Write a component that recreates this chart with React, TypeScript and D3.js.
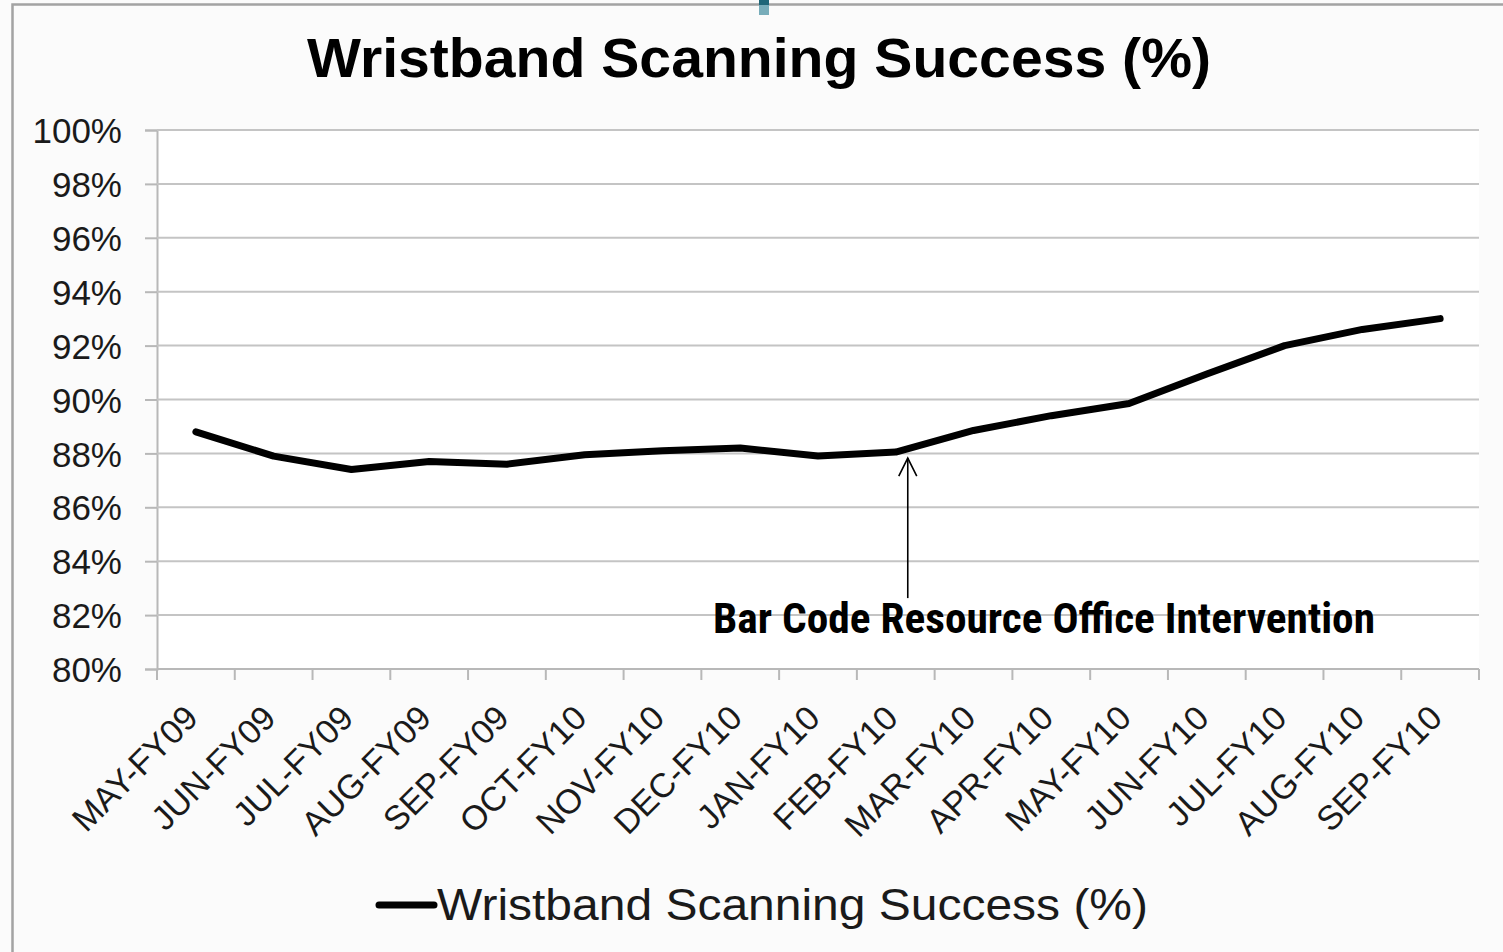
import React, { useRef, useEffect } from "react";
import * as d3 from "d3";

const categories = [
  "MAY-FY09", "JUN-FY09", "JUL-FY09", "AUG-FY09", "SEP-FY09", "OCT-FY10",
  "NOV-FY10", "DEC-FY10", "JAN-FY10", "FEB-FY10", "MAR-FY10", "APR-FY10",
  "MAY-FY10", "JUN-FY10", "JUL-FY10", "AUG-FY10", "SEP-FY10",
];
const successPct = [
  88.8, 87.9, 87.4, 87.7, 87.6, 87.95, 88.1, 88.2, 87.9, 88.05,
  88.85, 89.4, 89.85, 90.95, 92.0, 92.6, 93.0,
];
const yTicks = [80, 82, 84, 86, 88, 90, 92, 94, 96, 98, 100];
const seriesName = "Wristband Scanning Success (%)";
const chartTitle = "Wristband Scanning Success (%)";
const annotationText = "Bar Code Resource Office Intervention";
const annotationCategory = "FEB-FY10";

function App() {
  const svgRef = useRef<SVGSVGElement>(null);

  useEffect(() => {
    const W = 1503;
    const H = 952;
    const plot = { left: 157, right: 1479, top: 130, bottom: 669 };
    const svg = d3.select(svgRef.current).attr("width", W).attr("height", H);
    svg.selectAll("*").remove();

    // page background + frame
    svg.append("rect").attr("width", W).attr("height", H).attr("fill", "#fbfbfb");
    svg
      .append("path")
      .attr("d", `M12.5,${H} L12.5,4.5 L${W},4.5`)
      .attr("fill", "none")
      .attr("stroke", "#a3a3a3")
      .attr("stroke-width", 2.5);
    // little teal tab at the top
    svg.append("rect").attr("x", 759).attr("y", 0).attr("width", 10).attr("height", 15).attr("fill", "#78adba");
    svg.append("rect").attr("x", 759).attr("y", 0).attr("width", 10).attr("height", 5).attr("fill", "#1f6678");

    svg
      .append("rect")
      .attr("x", plot.left)
      .attr("y", plot.top)
      .attr("width", plot.right - plot.left)
      .attr("height", plot.bottom - plot.top)
      .attr("fill", "#ffffff");

    const x = d3.scaleBand().domain(categories).range([plot.left, plot.right]);
    const y = d3.scaleLinear().domain([80, 100]).range([plot.bottom, plot.top]);
    const cx = (c: string) => (x(c) as number) + x.bandwidth() / 2;

    // title
    svg
      .append("text")
      .attr("x", 759)
      .attr("y", 77)
      .attr("text-anchor", "middle")
      .attr("font-family", "Liberation Sans, Arial, sans-serif")
      .attr("font-weight", "bold")
      .attr("font-size", 56)
      .attr("textLength", 904)
      .attr("lengthAdjust", "spacingAndGlyphs")
      .attr("fill", "#000")
      .text(chartTitle);

    // gridlines + y axis
    const yAxis = d3
      .axisLeft(y)
      .tickValues(yTicks)
      .tickSize(12)
      .tickPadding(23)
      .tickFormat((d) => `${d}%`);
    const gy = svg.append("g").attr("transform", `translate(${plot.left},0)`).call(yAxis);
    gy.select(".domain").attr("stroke", "#b8b8b8").attr("stroke-width", 2);
    gy.selectAll(".tick line").attr("stroke", "#b8b8b8").attr("stroke-width", 2);
    gy.selectAll(".tick text")
      .attr("font-family", "Liberation Sans, Arial, sans-serif")
      .attr("font-size", 35)
      .attr("fill", "#1a1a1a")
      .attr("dy", "0.36em");

    svg
      .append("g")
      .selectAll("line")
      .data(yTicks.filter((t) => t !== 80))
      .join("line")
      .attr("x1", plot.left)
      .attr("x2", plot.right)
      .attr("y1", (d) => y(d))
      .attr("y2", (d) => y(d))
      .attr("stroke", "#c4c4c4")
      .attr("stroke-width", 2);

    // x axis
    const xAxis = d3.axisBottom(x).tickSize(0).tickFormat(() => "");
    const gx = svg.append("g").attr("transform", `translate(0,${plot.bottom})`).call(xAxis);
    gx.select(".domain").remove();
    svg
      .append("line")
      .attr("x1", plot.left)
      .attr("x2", plot.right)
      .attr("y1", plot.bottom)
      .attr("y2", plot.bottom)
      .attr("stroke", "#b8b8b8")
      .attr("stroke-width", 2);
    const edges = categories.map((c) => x(c) as number).concat([plot.right]);
    svg
      .append("g")
      .selectAll("line")
      .data(edges)
      .join("line")
      .attr("x1", (d) => d)
      .attr("x2", (d) => d)
      .attr("y1", plot.bottom)
      .attr("y2", plot.bottom + 11)
      .attr("stroke", "#b8b8b8")
      .attr("stroke-width", 2);

    svg
      .append("g")
      .selectAll("text")
      .data(categories)
      .join("text")
      .attr("transform", (d) => `translate(${cx(d) + 4},${plot.bottom + 51}) rotate(-45)`)
      .attr("text-anchor", "end")
      .attr("font-family", "Liberation Sans, Arial, sans-serif")
      .attr("font-size", 34)
      .attr("fill", "#1a1a1a")
      .text((d) => d);

    // series line
    const line = d3
      .line<number>()
      .x((d, i) => cx(categories[i]))
      .y((d) => y(d));
    svg
      .append("path")
      .datum(successPct)
      .attr("fill", "none")
      .attr("stroke", "#000")
      .attr("stroke-width", 7)
      .attr("stroke-linejoin", "round")
      .attr("stroke-linecap", "round")
      .attr("d", line);

    // annotation arrow
    const ai = categories.indexOf(annotationCategory);
    const ax = cx(annotationCategory) + 12;
    const tipY = y(successPct[ai]) + 6;
    const baseY = y(82) - 17;
    const arrow = svg.append("g").attr("stroke", "#000").attr("stroke-width", 1.6).attr("fill", "none");
    arrow.append("line").attr("x1", ax).attr("x2", ax).attr("y1", tipY).attr("y2", baseY);
    arrow
      .append("path")
      .attr("d", `M${ax - 9},${tipY + 18} L${ax},${tipY} L${ax + 9},${tipY + 18}`);

    svg
      .append("text")
      .attr("x", 1044)
      .attr("y", y(82) + 18)
      .attr("text-anchor", "middle")
      .attr("font-family", "Liberation Sans Narrow, Roboto Condensed, Liberation Sans, Arial, sans-serif")
      .attr("font-stretch", "condensed")
      .attr("font-weight", "bold")
      .attr("font-size", 42)
      .attr("textLength", 662)
      .attr("lengthAdjust", "spacingAndGlyphs")
      .attr("fill", "#000")
      .text(annotationText);

    // legend
    const lg = svg.append("g").attr("transform", "translate(379,905)");
    lg.append("line")
      .attr("x1", 0)
      .attr("x2", 55)
      .attr("stroke", "#000")
      .attr("stroke-width", 7)
      .attr("stroke-linecap", "round");
    lg.append("text")
      .attr("x", 58)
      .attr("y", 15)
      .attr("font-family", "Liberation Sans, Arial, sans-serif")
      .attr("font-size", 45)
      .attr("textLength", 711)
      .attr("lengthAdjust", "spacingAndGlyphs")
      .attr("fill", "#1a1a1a")
      .text(seriesName);
  }, []);

  return (
    <div style={{ position: "absolute", left: 0, top: 0 }}>
      <svg ref={svgRef} style={{ display: "block" }}></svg>
    </div>
  );
}

export default App;
